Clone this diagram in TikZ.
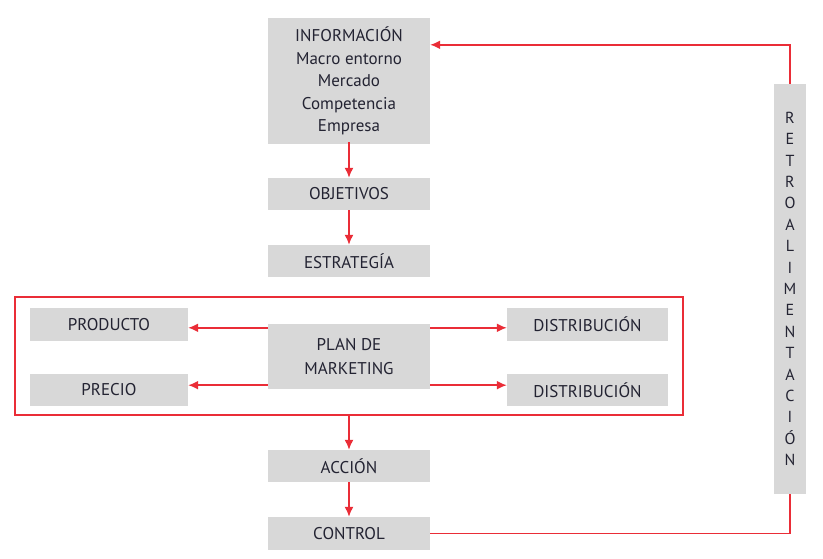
\documentclass[tikz,border=0pt]{standalone}
\usepackage{fontspec}
\setmainfont{PT Sans}
\usetikzlibrary{positioning, calc, arrows.meta}
\definecolor{boxgray}{RGB}{216,216,216}
\definecolor{linered}{RGB}{234,45,55}
\definecolor{txtgray}{RGB}{35,35,50}
\tikzset{
    box/.style={fill=boxgray, text=txtgray, minimum width=162pt, minimum height=#1, inner sep=0pt, font=\fontsize{17}{24}\selectfont, align=center},
    box/.default=32pt,
    flow/.style={draw=linered, line width=1.6pt, -{Latex[length=10pt, width=9pt]}},
    link/.style={draw=linered, line width=1.6pt}
}

\begin{document}
\begin{tikzpicture}[x=1pt, y=-1pt]
    \useasboundingbox (0,0) rectangle (823,558);
    %Central column
    \node[box=126pt, font=\fontsize{17}{22.5}\selectfont] (info) at (349,81) {INFORMACIÓN\\Macro entorno\\Mercado\\Competencia\\Empresa};
    \node[box] (obj) at (349,194) {OBJETIVOS};
    \node[box] (estr) at (349,261) {ESTRATEGÍA};
    \node[box=65pt] (plan) at (349,356.5) {PLAN DE\\MARKETING};
    \node[box] (accion) at (349,466) {ACCIÓN};
    \node[box=33pt] (control) at (349,533.5) {CONTROL};
    %Side boxes
    \node[box=33pt, minimum width=158pt] (prod) at (109,324.5) {PRODUCTO};
    \node[box, minimum width=158pt] (precio) at (109,390) {PRECIO};
    \node[box=33pt, minimum width=161pt] (distA) at (587.5,324.5) {DISTRIBUCIÓN};
    \node[box, minimum width=161pt] (distB) at (587.5,390) {DISTRIBUCIÓN};
    %Frame
    \node[draw, color=linered, line width=1.4pt, minimum width=668pt, minimum height=118pt, inner sep=0pt] (frame) at (349,356) {};
    %Feedback
    \node[box=410pt, minimum width=32pt, font=\fontsize{16}{21.4}\selectfont] (retro) at (790,289)
        {R\\E\\T\\R\\O\\A\\L\\I\\M\\E\\N\\T\\A\\C\\I\\Ó\\N};
    %Arrows
    \draw[flow] ([yshift=2pt]info.south) -- (obj);
    \draw[flow] (obj) -- (estr);
    \draw[flow] ([yshift=-4pt]plan.north west) -- ([yshift=-4pt]plan.north west -| prod.east);
    \draw[flow] ([yshift=4pt]plan.south west) -- ([yshift=4pt]plan.south west -| precio.east);
    \draw[flow] ([yshift=-4pt]plan.north east) -- ([yshift=-4pt]plan.north east -| distA.west);
    \draw[flow] ([yshift=4pt]plan.south east) -- ([yshift=4pt]plan.south east -| distB.west);
    \draw[flow] (frame.south) -- (accion);
    \draw[flow] (accion) -- (control);
    \draw[link] (control.east) -| (retro.south);
    \draw[flow] (retro.north) |- ([yshift=-27pt]info.north east);
\end{tikzpicture}
\end{document}
